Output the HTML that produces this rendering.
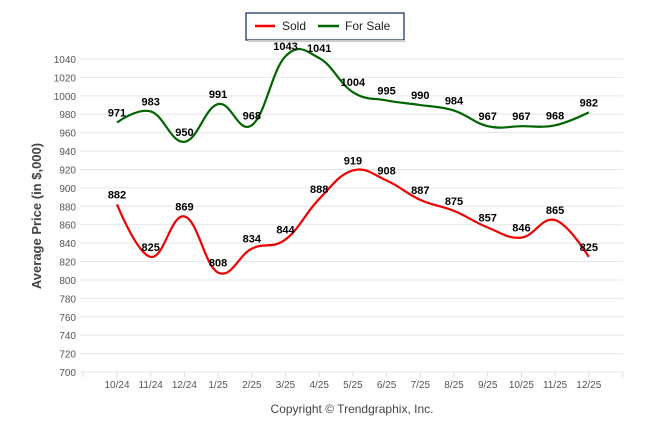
<!DOCTYPE html>
<html><head><meta charset="utf-8"><style>
body{margin:0;background:#fff;font-family:"Liberation Sans",sans-serif}
svg text{font-family:"Liberation Sans",sans-serif}
</style></head><body>
<svg id="chart" width="646" height="434" xmlns="http://www.w3.org/2000/svg">
<g id="grid"></g>
<g id="yaxis"></g>
<g id="xaxis"></g>
<g id="series"></g>
<g id="labels"></g>
<text transform="translate(41,216) rotate(-90)" text-anchor="middle" font-size="13" font-weight="bold" fill="#444">Average Price (in $,000)</text>
<text x="352" y="413" text-anchor="middle" font-size="12" fill="#444">Copyright © Trendgraphix, Inc.</text>
<g>
<rect x="246" y="13" width="158" height="27" fill="#fff" stroke="#1f3864" stroke-width="1.3"/>
<rect x="248" y="40" width="157" height="2" fill="#ccc"/>
<line x1="255" y1="26" x2="275" y2="26" stroke="#e00" stroke-width="2.5"/>
<text x="282" y="30" font-size="12" fill="#222">Sold</text>
<line x1="318" y1="26" x2="339" y2="26" stroke="#006400" stroke-width="2.5"/>
<text x="345" y="30" font-size="12" fill="#222">For Sale</text>
</g>
</svg>
<script>
const categories=["10/24","11/24","12/24","1/25","2/25","3/25","4/25","5/25","6/25","7/25","8/25","9/25","10/25","11/25","12/25"];
const soldValues=[882,825,869,808,834,844,888,919,908,887,875,857,846,865,825];
const forSaleValues=[971,983,950,991,968,1043,1041,1004,995,990,984,967,967,968,982];
const yTicks=[700,720,740,760,780,800,820,840,860,880,900,920,940,960,980,1000,1020,1040];
const NS="http://www.w3.org/2000/svg";
const x0=117,dx=33.7,yMin=700,yMax=1040,pyMin=372,pyMax=59,left=80,right=623;
const X=i=>x0+i*dx;
const Y=v=>pyMin-(v-yMin)*(pyMin-pyMax)/(yMax-yMin);
function mk(tag,attrs,parent){const e=document.createElementNS(NS,tag);for(const k in attrs)e.setAttribute(k,attrs[k]);parent.appendChild(e);return e;}
const grid=document.getElementById('grid'),ya=document.getElementById('yaxis'),xa=document.getElementById('xaxis');
yTicks.forEach(t=>{
 const l=mk('line',{x1:left,x2:right,y1:Y(t),y2:Y(t),stroke:'#e6e6e6','stroke-width':1},grid);
 
 
 const tx=mk('text',{x:76,y:Y(t)+4,'text-anchor':'end','font-size':10,fill:'#555'},ya);
 tx.textContent=t;
 
 
});
mk('line',{x1:83,x2:83,y1:372,y2:377,stroke:'#ddd'},xa);
mk('line',{x1:623,x2:623,y1:372,y2:377,stroke:'#ddd'},xa);
categories.forEach((c,i)=>{
 mk('line',{x1:X(i),x2:X(i),y1:372,y2:377,stroke:'#ddd'},xa);
 const tx=mk('text',{x:X(i),y:388,'text-anchor':'middle','font-size':10,fill:'#555'},xa);
 tx.textContent=c;
 
 
});
function spline(vals){
 const p=vals.map((v,i)=>[X(i),Y(v)]);
 let d='M'+p[0][0]+' '+p[0][1];let prevR=p[0];
 for(let i=1;i<p.length;i++){
  const [x,y]=p[i],last=p[i-1],next=p[i+1];
  let lc=[x,y],rc=[x,y];
  if(next){
   const s=1.5,dn=2.5;
   let lx=(s*x+last[0])/dn,ly=(s*y+last[1])/dn,rx=(s*x+next[0])/dn,ry=(s*y+next[1])/dn;
   const corr=((ry-ly)*(rx-x))/(rx-lx)+y-ry;ly+=corr;ry+=corr;
   lc=[lx,ly];rc=[rx,ry];
  }
  d+=' C'+prevR[0]+' '+prevR[1]+' '+lc[0]+' '+lc[1]+' '+x+' '+y;prevR=rc;
 }
 return d;
}
const ser=document.getElementById('series'),lab=document.getElementById('labels');
[[forSaleValues,'#006400','for-sale-line'],[soldValues,'#ee0000','sold-line']].forEach(([vals,col,name])=>{
 const p=mk('path',{d:spline(vals),fill:'none',stroke:col,'stroke-width':2.2},ser);
 
 
 vals.forEach((v,i)=>{
  const t=mk('text',{x:X(i),y:Y(v)-6,'text-anchor':'middle','font-size':11,'font-weight':'bold',fill:'#000'},lab);
  t.textContent=v;
  
  
 });
});
</script>
</body></html>
